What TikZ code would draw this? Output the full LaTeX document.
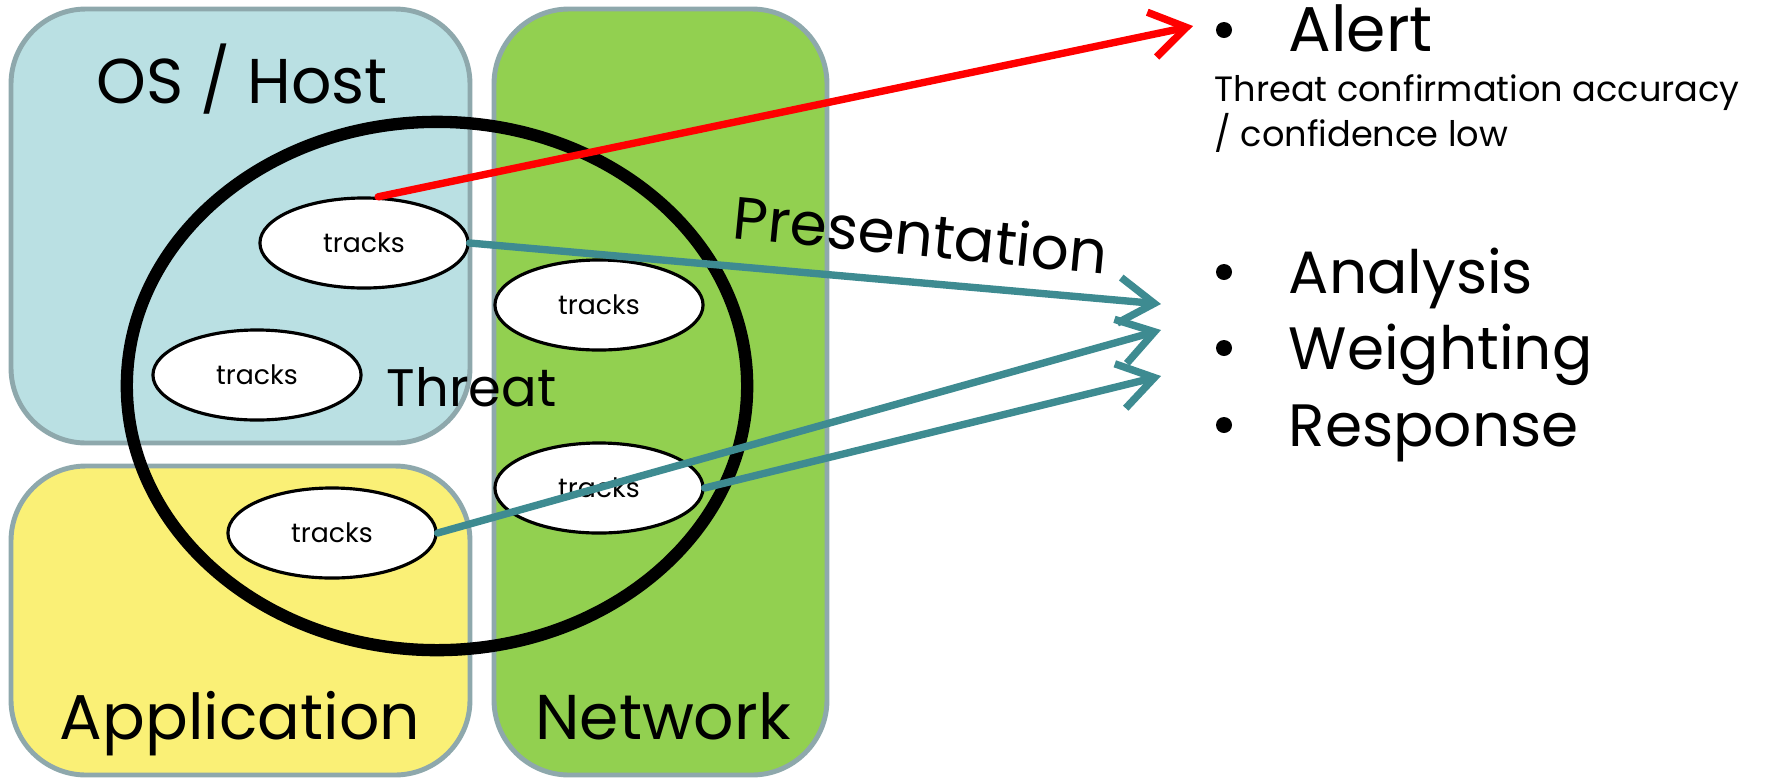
\documentclass[tikz,border=0pt]{standalone}
\usepackage{fontspec}
\setmainfont{Poppins}
\usetikzlibrary{shapes.geometric,arrows.meta}
\definecolor{hostblue}{HTML}{BAE0E3}
\definecolor{netgreen}{HTML}{92D050}
\definecolor{appyellow}{HTML}{FAF076}
\definecolor{areaedge}{HTML}{8EA8AC}
\definecolor{feedteal}{HTML}{3E8B91}

\begin{document}
\begin{tikzpicture}[x=0.01cm, y=-0.01cm,
    area/.style={draw=areaedge, line width=1.4pt, rounded corners=0.75cm},
    tracknode/.style={draw, ellipse, fill=white, line width=0.9pt, inner sep=0pt,
      minimum width=2.08cm, minimum height=0.9cm, font=\fontsize{7.6}{9}\selectfont},
    label/.style={inner sep=0pt},
    biglabel/.style={inner sep=0pt, font=\fontsize{18}{22}\selectfont},
    listlabel/.style={inner sep=0pt, anchor=base west, font=\fontsize{17}{20}\selectfont},
    dot/.style={circle, fill, inner sep=0pt, minimum size=0.16cm},
    feed/.style={line width=2.1pt, line cap=round, line join=round,
      -{Straight Barb[length=10pt, width=13pt]}}]
    \useasboundingbox (0, 0) rectangle (1769, 778);
    % areas
    \draw [area, fill=hostblue]   (11, 9) rectangle (470, 443);
    \draw [area, fill=appyellow]  (11, 466) rectangle (470, 775);
    \draw [area, fill=netgreen]   (494, 9) rectangle (827, 775);
    \node [biglabel, anchor=base] (host) at (242, 103) {OS / Host};
    \node [biglabel, anchor=base] (app)  at (240, 739) {Application};
    \node [biglabel, anchor=base] (net)  at (663, 739) {Network};
    % threat
    \node [draw, ellipse, line width=3.5pt, minimum width=6.2cm, minimum height=5.28cm]
          (threat) at (437, 386) {};
    \node [label, font=\fontsize{15}{18}\selectfont, anchor=base west] (threatlbl) at (386, 406) {Threat};
    \node [label, font=\fontsize{17}{20}\selectfont, anchor=base west, rotate=-5.6] (pres) at (731, 238) {Presentation};
    % tracks
    \node [tracknode] (t1) at (364, 243) {tracks};
    \node [tracknode] (t2) at (599, 305) {tracks};
    \node [tracknode] (t3) at (257, 375) {tracks};
    \node [tracknode] (t4) at (599, 488) {tracks};
    \node [tracknode] (t5) at (332, 533) {tracks};
    % outcomes
    \node [dot] (b1) at (1224, 30)  {};
    \node [listlabel, font=\fontsize{18}{22}\selectfont] (alert) at (1288, 51) {Alert};
    \node [label, font=\fontsize{10}{12}\selectfont, anchor=base west] (conf1) at (1214, 101) {Threat confirmation accuracy};
    \node [label, font=\fontsize{10}{12}\selectfont, anchor=base west] (conf2) at (1214, 146) {/ confidence low};
    \node [dot] (b2) at (1224, 272) {};
    \node [listlabel] (analysis) at (1288, 293) {Analysis};
    \node [dot] (b3) at (1224, 348) {};
    \node [listlabel] (weighting) at (1288, 369) {Weighting};
    \node [dot] (b4) at (1224, 425) {};
    \node [listlabel] (response) at (1288, 446) {Response};
    \coordinate (alerttip) at (1193, 26);
    \coordinate (tip1)     at (1161, 304);
    \coordinate (tip2)     at (1161, 330);
    \coordinate (tip3)     at (1161, 376);
    % arrows
    \draw [feed, red]       (t1.73) -- (alerttip);
    \draw [feed, feedteal]  (t1.east) -- (tip1);
    \draw [feed, feedteal]  (t5.east) -- (tip2);
    \draw [feed, feedteal]  (t4.east) -- (tip3);
\end{tikzpicture}
\end{document}
